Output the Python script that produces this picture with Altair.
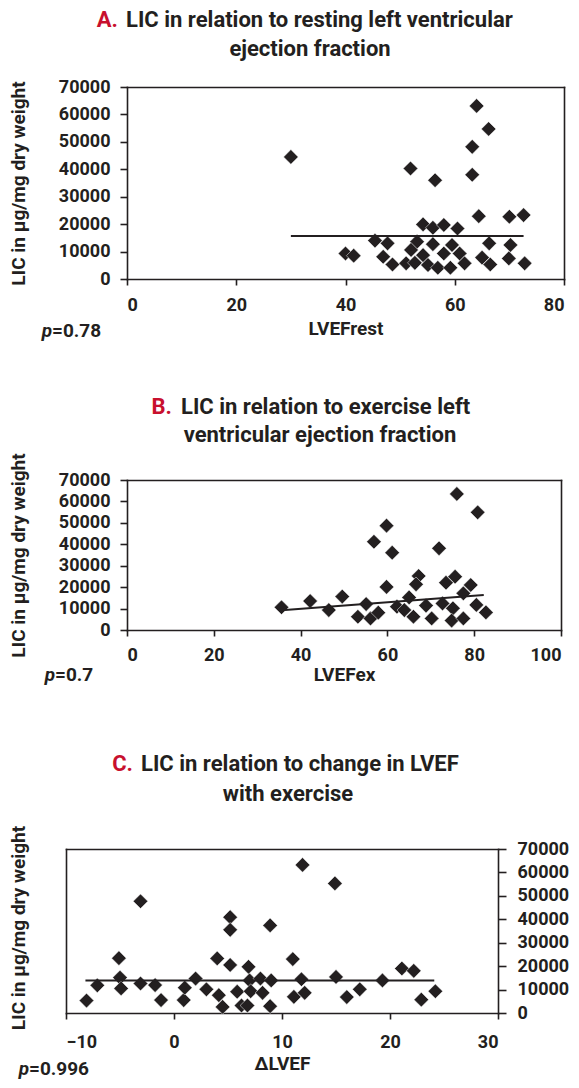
import altair as alt
import pandas as pd

FONT = "Roboto"
INK = "#231f20"
RED = "#c8102e"
YTITLE = "LIC in \u03bcg/mg dry weight"
W, H = 563, 1072  # drawing canvas (page minus the 8px margins)

# ---------------- Panel A: LVEF at rest ----------------
a_x = [30, 64, 66.2, 63.2, 63.2, 51.9, 56.4, 64.4, 70, 72.6, 54.2, 56, 58, 60.5,
       45.4, 47.7, 53.1, 52, 56, 59.5, 66.3, 70.2, 40, 41.5, 46.9, 48.6, 51.1,
       52.7, 54.2, 55.1, 56.9, 58, 59.2, 60.9, 61.8, 65, 66.5, 69.9, 72.8]
a_y = [44500, 63100, 54700, 48200, 38000, 40300, 36000, 22900, 22700, 23300,
       19900, 18700, 19700, 18400, 14000, 13000, 13600, 10600, 12700, 12400,
       13000, 12400, 9300, 8500, 8100, 5300, 5700, 5900, 8700, 5100, 4100, 9300,
       4100, 9300, 5700, 7800, 5300, 7500, 5700]
a_fit_x = [30, 72.6]
a_fit_y = [15700, 15700]

# ---------------- Panel B: LVEF with exercise ----------------
b_x = [76, 80.8, 59.8, 56.9, 61.1, 71.9, 67.2, 66.6, 59.8, 73.5, 75.6, 79.2, 77.5,
       35.6, 42.2, 46.5, 49.6, 55.1, 53.2, 56.1, 57.9, 62.2, 63.9, 65, 66, 68.9,
       70.2, 72.7, 75.1, 74.8, 77.5, 80.5, 82.7]
b_y = [63500, 54900, 48700, 41200, 36100, 38100, 25200, 21300, 20100, 22100,
       24900, 21000, 17100, 10600, 13500, 9300, 15600, 12100, 6200, 5400, 8100,
       10900, 9300, 15200, 6200, 11400, 5400, 12400, 10100, 4400, 5400, 11700, 8200]
b_fit_x = [36.4, 82.2]
b_fit_y = [9300, 16300]

# ---------------- Panel C: change in LVEF ----------------
c_x = [-8.1, -7.1, -5.1, -5.0, -4.9, -3.1, -3.1, -1.75, -1.2, 0.9, 1.0, 2.0, 3.0,
       4.0, 4.15, 4.5, 5.2, 5.2, 5.2, 5.85, 6.25, 6.8, 6.9, 7.0, 7.1, 8.0, 8.2,
       8.9, 9.0, 8.9, 11.0, 11.1, 11.9, 11.8, 12.1, 14.9, 15.0, 16.0, 17.2, 19.3,
       21.1, 22.2, 22.9, 24.2]
c_y = [5300, 11800, 23400, 15100, 10500, 47700, 12600, 11900, 5500, 5500, 10800,
       14700, 10100, 23300, 7600, 2600, 40900, 35500, 20500, 9100, 3200, 3200,
       19700, 13900, 9300, 14700, 8600, 37400, 13900, 2900, 23000, 6900, 63200,
       14400, 8600, 55300, 15400, 6800, 10100, 13900, 19000, 18000, 5700, 9300]
c_fit_x = [-8.2, 24.1]
c_fit_y = [13900, 13900]

Y_TICKS = [0, 10000, 20000, 30000, 40000, 50000, 60000, 70000]

TITLE_SIZE = 22
NOTE_SIZE = 19


def txt(s, x, y, size=TITLE_SIZE, align="left", color=INK, style="normal",
        angle=0):
    return alt.Chart(pd.DataFrame({"t": [s]})).mark_text(
        align=align, baseline="middle", font=FONT, fontSize=size,
        fontWeight="bold", fontStyle=style, color=color, angle=angle
    ).encode(text="t:N", x=alt.value(x), y=alt.value(y))


def panel(xs, ys, fx, fy, xdom, xticks, xr, yr, xtitle, lab_pad, ttl_pad,
          y_side):
    """xr = [left, right] px, yr = [bottom, top] px of the panel's plot area."""
    pts = pd.DataFrame({"x": xs, "y": ys})
    fit = pd.DataFrame({"x": fx, "y": fy})
    xs_ = alt.Scale(domain=xdom, range=xr, nice=False, zero=False)
    ys_ = alt.Scale(domain=[0, 70000], range=yr, nice=False)
    x_axis = alt.Axis(orient="bottom", offset=yr[0] - H, values=xticks,
                      format="d", title=xtitle, tickSize=6,
                      labelPadding=lab_pad, titlePadding=ttl_pad)
    if y_side == "left":
        y_axis = alt.Axis(orient="left", offset=-xr[0], values=Y_TICKS,
                          format="d", title=YTITLE, tickSize=7, labelPadding=10,
                          titlePadding=30)
        y_frame = alt.Axis(orient="right", offset=xr[1] - W, labels=False,
                           ticks=False, title=None)
    else:
        y_axis = alt.Axis(orient="right", offset=xr[1] - W, values=Y_TICKS,
                          format="d", title=None, tickSize=8, labelPadding=11)
        y_frame = alt.Axis(orient="left", offset=-xr[0], labels=False,
                           ticks=False, title=None)
    x_frame = alt.Axis(orient="top", offset=-yr[1], labels=False, ticks=False,
                       title=None)
    scatter = alt.Chart(pts).mark_point(
        shape="diamond", filled=True, size=215, fill=INK, stroke="white",
        strokeWidth=0.5, opacity=1
    ).encode(x=alt.X("x:Q", scale=xs_, axis=x_axis),
             y=alt.Y("y:Q", scale=ys_, axis=y_axis))
    line = alt.Chart(fit).mark_line(color=INK, strokeWidth=2).encode(
        x=alt.X("x:Q", scale=xs_, axis=x_frame),
        y=alt.Y("y:Q", scale=ys_, axis=y_frame))
    return [scatter, line]


layers = []
layers += panel(a_x, a_y, a_fit_x, a_fit_y, [0, 80], [0, 20, 40, 60, 80],
                [119, 556], [271, 79], "LVEFrest", 11, 5, "left")
layers += panel(b_x, b_y, b_fit_x, b_fit_y, [0, 100], [0, 20, 40, 60, 80, 100],
                [119, 553], [622, 472], "LVEFex", 10, 1, "left")
layers += panel(c_x, c_y, c_fit_x, c_fit_y, [-10, 30], [-10, 0, 10, 20, 30],
                [58, 490], [1005, 841], "\u0394LVEF", 14, 3, "right")

layers += [
    # panel A annotations
    txt("A.", 110, 12, color=RED, align="right"),
    txt("LIC in relation to resting left ventricular", 118, 12),
    txt("ejection fraction", 302, 41, align="center"),
    txt("p", 44, 323, NOTE_SIZE, "right", style="italic"),
    txt("=0.78", 44, 323, NOTE_SIZE),
    # panel B annotations
    txt("B.", 164, 399, color=RED, align="right"),
    txt("LIC in relation to exercise left", 173, 399),
    txt("ventricular ejection fraction", 312, 427, align="center"),
    txt("p", 47, 667, NOTE_SIZE, "right", style="italic"),
    txt("=0.7", 47, 667, NOTE_SIZE),
    # panel C annotations
    txt("C.", 125, 756, color=RED, align="right"),
    txt("LIC in relation to change in LVEF", 133, 756),
    txt("with exercise", 280, 786, align="center"),
    txt(YTITLE, 11, 920, NOTE_SIZE, "center", angle=270),
    txt("p", 21, 1061, NOTE_SIZE, "right", style="italic"),
    txt("=0.996", 21, 1061, NOTE_SIZE),
]

chart = alt.layer(*layers).resolve_scale(
    x="independent", y="independent"
).properties(
    width=W, height=H, padding=0,
    autosize=alt.AutoSizeParams(type="none")
).configure_view(strokeOpacity=0).configure_axis(
    labelFont=FONT, labelFontSize=18, labelFontWeight="bold", labelColor=INK,
    titleFont=FONT, titleFontSize=19, titleFontWeight="bold", titleColor=INK,
    domainColor=INK, domainWidth=1.6, domainCap="square", tickColor=INK,
    tickWidth=1.6, grid=False, labelOverlap=False
)

chart.save("out.html", embed_options={"renderer": "svg", "actions": False})
